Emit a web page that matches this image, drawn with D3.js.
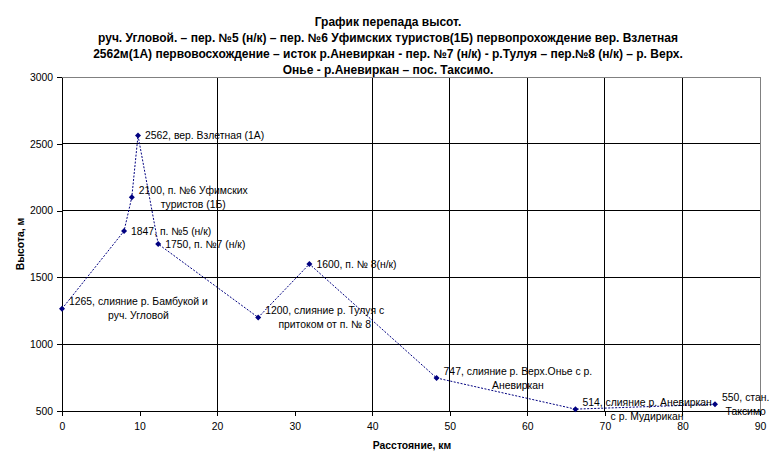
<!DOCTYPE html>
<html>
<head>
<meta charset="utf-8">
<script src="https://cdn.jsdelivr.net/npm/d3@7"></script>
<style>
  body { margin: 0; background: #fff; }
  text { font-family: "Liberation Sans", Arial, sans-serif; }
</style>
</head>
<body>
<div id="chart"></div>
<script>
// Data
const distanceKm = [0, 8, 9, 9.8, 12.4, 25.3, 31.9, 48.3, 66.2, 84.2];
const heightM = [1265, 1847, 2100, 2562, 1750, 1200, 1600, 747, 514, 550];
const pointLabels = [
  ["1265, слияние р. Бамбукой и", "руч. Угловой"],
  ["1847, п. №5 (н/к)"],
  ["2100, п. №6 Уфимских", "туристов (1Б)"],
  ["2562, вер. Взлетная (1А)"],
  ["1750, п. №7 (н/к)"],
  ["1200, слияние р. Тулуя с", "притоком от п. № 8"],
  ["1600, п. № 8(н/к)"],
  ["747, слияние р. Верх.Онье с р.", "Аневиркан"],
  ["514, слияние р. Аневиркан", "с р. Мудирикан"],
  ["550, стан.", "Таксимо"]
];
const xTicks = [0, 10, 20, 30, 40, 50, 60, 70, 80, 90];
const xGrid = [20, 40, 50, 60, 70, 80];
const yTicks = [500, 1000, 1500, 2000, 2500, 3000];
const titleLines = [
  "График перепада высот.",
  "руч. Угловой. – пер. №5 (н/к) – пер. №6 Уфимских туристов(1Б) первопрохождение вер. Взлетная",
  "2562м(1А) первовосхождение – исток р.Аневиркан - пер. №7 (н/к) - р.Тулуя – пер.№8 (н/к) – р. Верх.",
  "Онье - р.Аневиркан – пос. Таксимо."
];

const width = 777, height = 466;
const margin = { top: 77, right: 17, bottom: 55, left: 62 };

const svg = d3.select("#chart")
  .append("svg")
  .attr("width", width)
  .attr("height", height);

const x = d3.scaleLinear().domain([0, 90]).range([margin.left, width - margin.right]);
const y = d3.scaleLinear().domain([500, 3000]).range([height - margin.bottom, margin.top]);

// Gridlines
svg.append("g")
  .selectAll("line.hgrid")
  .data(yTicks.slice(1, -1))
  .enter()
  .append("line")
  .attr("x1", x(0)).attr("x2", x(90))
  .attr("y1", (d) => y(d)).attr("y2", (d) => y(d))
  .attr("stroke", "#000").attr("shape-rendering", "crispEdges");

svg.append("g")
  .selectAll("line.vgrid")
  .data(xGrid)
  .enter()
  .append("line")
  .attr("x1", (d) => x(d)).attr("x2", (d) => x(d))
  .attr("y1", y(500)).attr("y2", y(3000))
  .attr("stroke", "#000").attr("shape-rendering", "crispEdges");

// Plot area border (top / right in gray)
svg.append("path")
  .attr("d", `M${x(0)},${y(3000)}H${x(90)}V${y(500)}`)
  .attr("fill", "none")
  .attr("stroke", "#808080")
  .attr("shape-rendering", "crispEdges");

// Axes
const xAxis = svg.append("g")
  .attr("transform", `translate(0,${y(500)})`)
  .call(d3.axisBottom(x).tickValues(xTicks).tickSize(5).tickSizeOuter(0));
const yAxis = svg.append("g")
  .attr("transform", `translate(${x(0)},0)`)
  .call(d3.axisLeft(y).tickValues(yTicks).tickFormat(d3.format("d")).tickSize(5).tickSizeOuter(0));

[xAxis, yAxis].forEach((g) => {
  g.selectAll("path, line").attr("stroke", "#000").attr("shape-rendering", "crispEdges");
  g.selectAll("text")
    .attr("font-family", "Liberation Sans, Arial, sans-serif")
    .attr("font-size", 10.4)
    .attr("fill", "#000");
});
xAxis.selectAll("text").attr("dy", "1.05em");
yAxis.selectAll("text").attr("x", -9);

// Line and markers
const points = distanceKm.map((d, i) => ({ km: d, h: heightM[i], label: pointLabels[i] }));

svg.append("path")
  .datum(points)
  .attr("fill", "none")
  .attr("stroke", "#000080")
  .attr("stroke-width", 1)
  .attr("stroke-dasharray", "2,1.5")
  .attr("d", d3.line().x((d) => x(d.km)).y((d) => y(d.h)));

svg.append("g")
  .selectAll("path.marker")
  .data(points)
  .enter()
  .append("path")
  .attr("transform", (d) => `translate(${x(d.km)},${y(d.h)})`)
  .attr("d", "M0,-3L3,0L0,3L-3,0Z")
  .attr("fill", "#000080");

// Data labels: block to the right of the point, lines centred in the block
const labels = svg.append("g");
points.forEach((d) => {
  const px = x(d.km) + 7;
  const py = y(d.h);
  const lh = 14;
  const g = labels.append("g");
  const texts = d.label.map((line, i) =>
    g.append("text")
      .attr("y", py + (i - (d.label.length - 1) / 2) * lh)
      .attr("dy", "0.35em")
      .attr("font-size", 10.4)
      .attr("fill", "#000")
      .attr("text-anchor", "middle")
      .text(line)
  );
  const w = d3.max(texts, (t) => t.node().getComputedTextLength());
  texts.forEach((t) => t.attr("x", px + w / 2));
});

// Title
svg.append("g")
  .selectAll("text")
  .data(titleLines)
  .enter()
  .append("text")
  .attr("x", 388)
  .attr("y", (d, i) => 26 + i * 16)
  .attr("text-anchor", "middle")
  .attr("font-size", 12)
  .attr("font-weight", "bold")
  .text((d) => d);

// Axis titles
svg.append("text")
  .attr("x", 412)
  .attr("y", 449)
  .attr("text-anchor", "middle")
  .attr("font-size", 10.4)
  .attr("font-weight", "bold")
  .text("Расстояние, км");

svg.append("text")
  .attr("transform", `translate(24,${(y(500) + y(3000)) / 2}) rotate(-90)`)
  .attr("text-anchor", "middle")
  .attr("font-size", 10.4)
  .attr("font-weight", "bold")
  .text("Высота, м");
</script>
</body>
</html>
